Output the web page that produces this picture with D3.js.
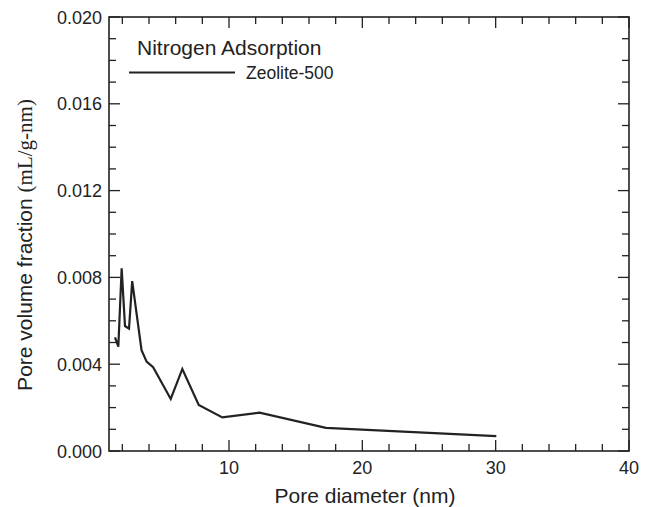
<!DOCTYPE html>
<html>
<head>
<meta charset="utf-8">
<script src="https://cdn.jsdelivr.net/npm/d3@7"></script>
<style>
  html, body { margin: 0; padding: 0; background: #fff; }
  svg { display: block; }
  text { font-family: "Liberation Sans", Arial, sans-serif; fill: #222; }
</style>
</head>
<body>
<svg id="chart" width="651" height="507"></svg>
<script>
// ---- data ----
const poreDiameter = [1.45, 1.70, 1.95, 2.2, 2.5, 2.74, 3.44, 3.82, 4.31, 5.63, 6.5, 7.73, 9.5, 12.29, 17.27, 30.05];
const poreVolume   = [0.00524, 0.00481, 0.00842, 0.00576, 0.00564, 0.00783, 0.00465, 0.00412, 0.00386, 0.0024, 0.00378, 0.00212, 0.00155, 0.00177, 0.00107, 0.00069];
const xTickValues = [10, 20, 30, 40];
const yTickValues = [0.000, 0.004, 0.008, 0.012, 0.016, 0.020];
const seriesName = "Zeolite-500";
const legendTitle = "Nitrogen Adsorption";

const svg = d3.select("#chart");
const pL = 109, pR = 629, pT = 17, pB = 451;

const x = d3.scaleLinear().domain([1, 40]).range([pL, pR]);
const y = d3.scaleLinear().domain([0, 0.020]).range([pB, pT]);

const color = "#222";
const g = svg.append("g");

// minor tick values
const xMinor = d3.range(2, 40.001, 2).filter(v => v % 10 !== 0);
const yMinor = d3.range(0, 0.0201, 0.001).filter((v, i) => i % 4 !== 0);

const MAJ = 11, MIN = 7;

function drawTicks(sel, vals, len, orient) {
  sel.selectAll(null).data(vals).enter().append("line")
    .attr("stroke", color).attr("stroke-width", 1.3)
    .each(function(d) {
      const s = d3.select(this);
      if (orient === "bottom") s.attr("x1", x(d)).attr("x2", x(d)).attr("y1", pB).attr("y2", pB - len);
      if (orient === "top") s.attr("x1", x(d)).attr("x2", x(d)).attr("y1", pT).attr("y2", pT + len);
      if (orient === "left") s.attr("y1", y(d)).attr("y2", y(d)).attr("x1", pL).attr("x2", pL + len);
      if (orient === "right") s.attr("y1", y(d)).attr("y2", y(d)).attr("x1", pR).attr("x2", pR - len);
    });
}
drawTicks(g, xTickValues, MAJ, "bottom");
drawTicks(g, xTickValues, MAJ, "top");
drawTicks(g, xMinor, MIN, "bottom");
drawTicks(g, xMinor, MIN, "top");
drawTicks(g, yTickValues, MAJ, "left");
drawTicks(g, yTickValues, MAJ, "right");
drawTicks(g, yMinor, MIN, "left");
drawTicks(g, yMinor, MIN, "right");

// frame
g.append("rect").attr("x", pL).attr("y", pT).attr("width", pR - pL).attr("height", pB - pT)
  .attr("fill", "none").attr("stroke", color).attr("stroke-width", 1.6);

// tick labels
g.selectAll(".xl").data(xTickValues).enter().append("text")
  .attr("x", d => x(d)).attr("y", 474).attr("text-anchor", "middle")
  .attr("font-size", 18).text(d => d);
g.selectAll(".yl").data(yTickValues).enter().append("text")
  .attr("x", 102).attr("y", d => y(d) + 6.5).attr("text-anchor", "end")
  .attr("font-size", 18).text(d => d3.format(".3f")(d));

// axis titles
g.append("text").attr("x", (pL + pR) / 2 - 4).attr("y", 503).attr("text-anchor", "middle")
  .attr("font-size", 21).text("Pore diameter (nm)");
const yt = g.append("text").attr("transform", "translate(32,245) rotate(-90)")
  .attr("text-anchor", "middle").attr("font-size", 21);
yt.append("tspan").text("Pore volume fraction ");
yt.append("tspan").attr("font-family", "'Liberation Serif', 'Times New Roman', serif").text("(mL/g-nm)");

// data line
const line = d3.line().x((d, i) => x(poreDiameter[i])).y(d => y(d));
g.append("path").datum(poreVolume).attr("d", line)
  .attr("fill", "none").attr("stroke", color).attr("stroke-width", 2.2).attr("stroke-linejoin", "miter");

// legend
g.append("text").attr("x", 137).attr("y", 55).attr("font-size", 21).text(legendTitle);
g.append("line").attr("x1", 129).attr("x2", 235).attr("y1", 72.5).attr("y2", 72.5)
  .attr("stroke", color).attr("stroke-width", 2);
g.append("text").attr("x", 246).attr("y", 79).attr("font-size", 17.5).text(seriesName);
</script>
</body>
</html>
